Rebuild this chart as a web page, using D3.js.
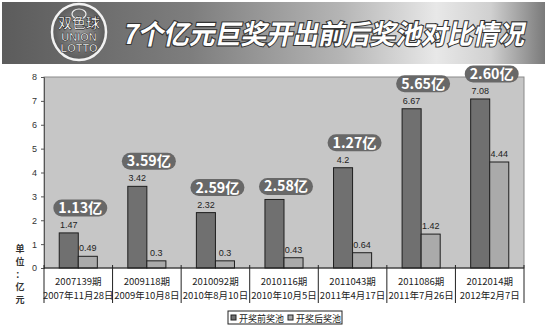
<!DOCTYPE html>
<html>
<head>
<meta charset="utf-8">
<script src="https://cdn.jsdelivr.net/npm/d3@7"></script>
<style>
  body { margin: 0; background: #fff; }
  svg { display: block; }
</style>
</head>
<body>
<div id="viz"></div>
<script>
// data
const periods = ['2007139期', '2009118期', '2010092期', '2010116期', '2011043期', '2011086期', '2012014期'];
const dates = ['2007年11月28日', '2009年10月8日', '2010年8月10日', '2010年10月5日', '2011年4月17日', '2011年7月26日', '2012年2月7日'];
const series = ['开奖前奖池', '开奖后奖池'];
const poolBefore = [1.47, 3.42, 2.32, 2.87, 4.2, 6.67, 7.08];
const poolAfter = [0.49, 0.3, 0.3, 0.43, 0.64, 1.42, 4.44];
const beforeLabels = ['1.47', '3.42', '2.32', null, '4.2', '6.67', '7.08'];
const afterLabels = ['0.49', '0.3', '0.3', '0.43', '0.64', '1.42', '4.44'];
const jackpots = ['1.13亿', '3.59亿', '2.59亿', '2.58亿', '1.27亿', '5.65亿', '2.60亿'];
const yTicks = [0, 1, 2, 3, 4, 5, 6, 7, 8];
const title = '7个亿元巨奖开出前后奖池对比情况';

const width = 550;
const height = 329;
const plot = { left: 44, right: 524, top: 77, bottom: 268 };
const colors = ['#707070', '#aaaaaa'];
const cjk = '"Noto Sans CJK SC", sans-serif';

const svg = d3.select('#viz')
  .append('svg')
  .attr('width', width)
  .attr('height', height);

const defs = svg.append('defs');
const bannerGrad = defs.append('linearGradient').attr('id', 'banner');
[[0, '#5c5c5c'], [0.35, '#7e7e7e'], [0.62, '#b4b4b4'], [0.8, '#e8e8e8'], [0.9, '#d0d0d0'], [1, '#7a7a7a']]
  .forEach(s => bannerGrad.append('stop').attr('offset', s[0]).attr('stop-color', s[1]));
const logoGrad = defs.append('radialGradient').attr('id', 'logo');
logoGrad.append('stop').attr('offset', 0).attr('stop-color', '#9a9a9a');
logoGrad.append('stop').attr('offset', 1).attr('stop-color', '#5a5a5a');

// header banner
svg.append('rect')
  .attr('x', 2).attr('y', 2).attr('width', 543).attr('height', 62)
  .attr('fill', 'url(#banner)');

const logo = svg.append('g').attr('transform', 'translate(79,32)');
logo.append('ellipse').attr('rx', 27).attr('ry', 28)
  .attr('fill', 'url(#logo)').attr('stroke', '#f2f2f2').attr('stroke-width', 2.5);
logo.append('ellipse').attr('cy', -18).attr('rx', 7).attr('ry', 5)
  .attr('fill', 'none').attr('stroke', '#eee').attr('stroke-width', 1.2);
logo.append('text').attr('y', -4).attr('text-anchor', 'middle')
  .attr('font-family', cjk).attr('font-weight', 'bold').attr('font-size', 14)
  .attr('fill', '#fff').attr('stroke', '#333').attr('stroke-width', 0.7)
  .text('双色球');
logo.append('text').attr('y', 9).attr('text-anchor', 'middle')
  .attr('font-family', 'Liberation Sans, Arial, sans-serif').attr('font-weight', 'bold').attr('font-size', 11)
  .attr('fill', '#fff').attr('stroke', '#333').attr('stroke-width', 0.6)
  .text('UNION');
logo.append('text').attr('y', 20).attr('text-anchor', 'middle')
  .attr('font-family', 'Liberation Sans, Arial, sans-serif').attr('font-weight', 'bold').attr('font-size', 11)
  .attr('fill', '#fff').attr('stroke', '#333').attr('stroke-width', 0.6)
  .text('LOTTO');

svg.append('text')
  .attr('x', 0).attr('y', 0)
  .attr('transform', 'translate(122,44) skewX(-12)')
  .attr('font-family', cjk).attr('font-weight', 'bold').attr('font-size', 27)
  .attr('textLength', 402).attr('lengthAdjust', 'spacingAndGlyphs')
  .attr('fill', '#fff').attr('stroke', '#333').attr('stroke-width', 2.2)
  .attr('paint-order', 'stroke')
  .text(title);

// scales
const x0 = d3.scaleBand()
  .domain(periods)
  .range([plot.left, plot.right])
  .padding(0);

const x1 = d3.scaleBand()
  .domain(series)
  .range([0, x0.bandwidth()])
  .paddingInner(0)
  .paddingOuter(0.8);

const y = d3.scaleLinear()
  .domain([0, 8])
  .range([plot.bottom, plot.top]);

// plot background
svg.append('rect')
  .attr('x', plot.left).attr('y', plot.top)
  .attr('width', plot.right - plot.left).attr('height', plot.bottom - plot.top)
  .attr('fill', '#c6c6c6')
  .attr('stroke', '#8a8a8a').attr('stroke-width', 1);

// y axis
const yAxis = svg.append('g')
  .attr('transform', `translate(${plot.left},0)`)
  .call(d3.axisLeft(y).tickValues(yTicks).tickSize(3).tickPadding(4));
yAxis.select('.domain').attr('stroke', '#555');
yAxis.selectAll('.tick line').attr('stroke', '#555');
yAxis.selectAll('text')
  .attr('font-family', 'Liberation Sans, Arial, sans-serif')
  .attr('font-size', 9).attr('fill', '#333');

// unit label
svg.append('g').selectAll('text')
  .data(['单', '位', '：', '亿', '元'])
  .join('text')
  .attr('x', 20)
  .attr('y', (d, i) => 252 + i * 12.8)
  .attr('text-anchor', 'middle')
  .attr('font-family', cjk).attr('font-size', 9).attr('font-weight', 'bold')
  .attr('fill', '#333')
  .text(d => d);

// bars
const groups = svg.append('g').selectAll('g')
  .data(periods)
  .join('g')
  .attr('transform', d => `translate(${x0(d)},0)`);

const values = [poolBefore, poolAfter];
groups.selectAll('rect')
  .data((d, i) => series.map((s, k) => ({ s, v: values[k][i] })))
  .join('rect')
  .attr('x', d => x1(d.s))
  .attr('y', d => y(d.v))
  .attr('width', x1.bandwidth())
  .attr('height', d => plot.bottom - y(d.v))
  .attr('fill', (d, k) => colors[k])
  .attr('stroke', '#1e1e1e')
  .attr('stroke-width', 1);

// value labels
const labels = [beforeLabels, afterLabels];
groups.selectAll('text.val')
  .data((d, i) => series.map((s, k) => ({ s, v: values[k][i], t: labels[k][i] })).filter(d => d.t))
  .join('text')
  .attr('class', 'val')
  .attr('x', d => x1(d.s) + x1.bandwidth() / 2)
  .attr('y', d => y(d.v) - 5)
  .attr('text-anchor', 'middle')
  .attr('font-family', 'Liberation Sans, Arial, sans-serif')
  .attr('font-size', 9).attr('fill', '#222')
  .text(d => d.t);

// jackpot pills
const pills = svg.append('g').selectAll('g')
  .data(periods)
  .join('g')
  .attr('transform', (d, i) => {
    const cy = y(poolBefore[i]) - (beforeLabels[i] ? 25 : 13);
    return `translate(${x0(d) + x0.bandwidth() / 2 + 2},${cy})`;
  });
pills.append('rect')
  .attr('x', -27).attr('y', -8.5)
  .attr('width', 54).attr('height', 17)
  .attr('rx', 8.5)
  .attr('fill', '#686868');
pills.append('text')
  .attr('y', 5)
  .attr('text-anchor', 'middle')
  .attr('font-family', cjk).attr('font-weight', 'bold').attr('font-size', 14)
  .attr('textLength', 44).attr('lengthAdjust', 'spacingAndGlyphs')
  .attr('fill', '#fff')
  .text((d, i) => jackpots[i]);

// category table below axis
svg.append('line')
  .attr('x1', plot.left).attr('x2', plot.right)
  .attr('y1', plot.bottom).attr('y2', plot.bottom)
  .attr('stroke', '#222');

const edges = periods.map(p => x0(p)).concat([plot.right]);
svg.append('g').selectAll('line')
  .data(edges)
  .join('line')
  .attr('x1', d => d).attr('x2', d => d)
  .attr('y1', plot.bottom - 3).attr('y2', 303)
  .attr('stroke', '#222');

const cats = svg.append('g').selectAll('g')
  .data(periods)
  .join('g')
  .attr('transform', d => `translate(${x0(d) + x0.bandwidth() / 2},0)`);
cats.append('text')
  .attr('y', 285)
  .attr('text-anchor', 'middle')
  .attr('font-family', cjk).attr('font-size', 9.5).attr('fill', '#222')
  .text(d => d);
cats.append('text')
  .attr('y', 299)
  .attr('text-anchor', 'middle')
  .attr('font-family', cjk).attr('font-size', 9.5).attr('fill', '#222')
  .attr('textLength', (d, i) => dates[i].length > 11 ? 64 : null)
  .attr('lengthAdjust', 'spacingAndGlyphs')
  .text((d, i) => dates[i]);

// legend
const legend = svg.append('g').attr('transform', 'translate(228,311)');
legend.append('rect')
  .attr('width', 114).attr('height', 13)
  .attr('fill', '#fff').attr('stroke', '#222');
const items = legend.selectAll('g')
  .data(series)
  .join('g')
  .attr('transform', (d, i) => `translate(${3 + i * 57},0)`);
items.append('rect')
  .attr('x', 0).attr('y', 4).attr('width', 5).attr('height', 5)
  .attr('fill', (d, i) => colors[i]).attr('stroke', '#222');
items.append('text')
  .attr('x', 8).attr('y', 10.5)
  .attr('font-family', cjk).attr('font-size', 9.5).attr('fill', '#222')
  .attr('textLength', 45).attr('lengthAdjust', 'spacingAndGlyphs')
  .text(d => d);
</script>
</body>
</html>
